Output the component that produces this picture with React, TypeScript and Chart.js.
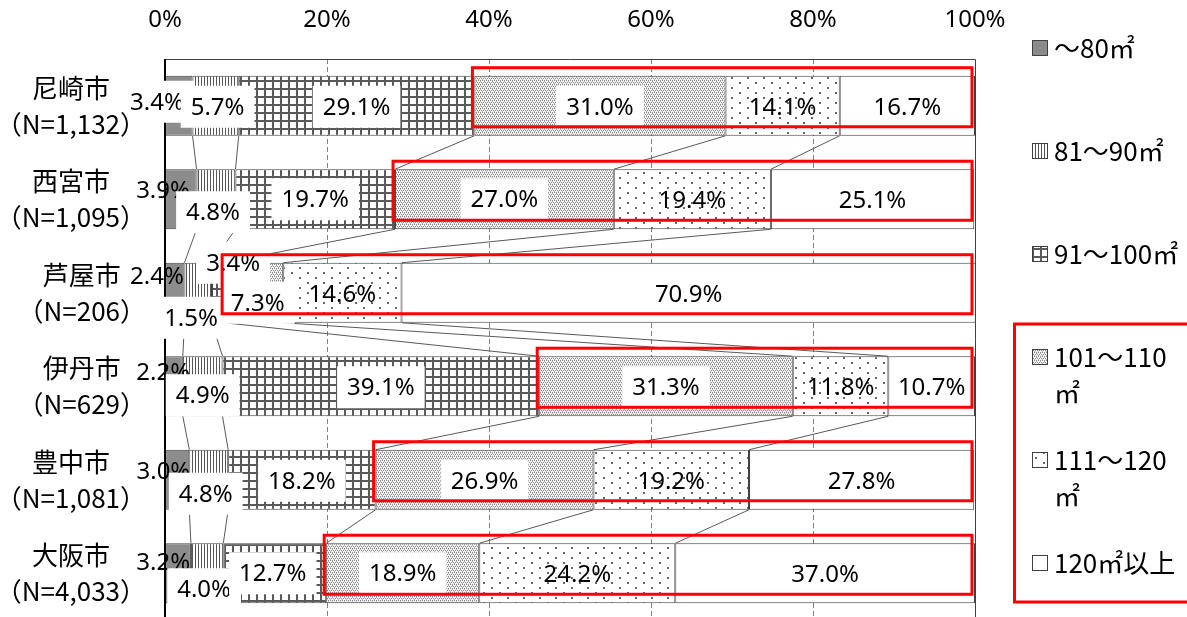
import React, { useEffect, useRef } from 'react';
import { Chart, registerables } from 'chart.js';

Chart.register(...registerables);

// ---------- data ----------
const cities = ['尼崎市', '西宮市', '芦屋市', '伊丹市', '豊中市', '大阪市'];
const sampleSizes = ['（N=1,132）', '（N=1,095）', '（N=206）', '（N=629）', '（N=1,081）', '（N=4,033）'];
const seriesNames = ['～80㎡', '81～90㎡', '91～100㎡', '101～110㎡', '111～120㎡', '120㎡以上'];
const upTo80 = [3.4, 3.9, 2.4, 2.2, 3.0, 3.2];
const from81to90 = [5.7, 4.8, 3.4, 4.9, 4.8, 4.0];
const from91to100 = [29.1, 19.7, 1.5, 39.1, 18.2, 12.7];
const from101to110 = [31.0, 27.0, 7.3, 31.3, 26.9, 18.9];
const from111to120 = [14.1, 19.4, 14.6, 11.8, 19.2, 24.2];
const over120 = [16.7, 25.1, 70.9, 10.7, 27.8, 37.0];
const xTickValues = [0, 20, 40, 60, 80, 100];

const seriesValues = [upTo80, from81to90, from91to100, from101to110, from111to120, over120];

// ---------- styling ----------
const NUM_FONT = '"Noto Sans", "Liberation Sans", sans-serif';
const JP_FONT = '"Noto Sans CJK JP", "Noto Sans", sans-serif';
const EDGE = '#404040';

// manual label displacement for the small segments (dx, dy) per series / category
const labelShift: Record<number, [number, number][]> = {
  0: [[-22, -4], [-18, -9], [-18, -17], [-11, -14], [-14, -9], [-15, -11]],
  1: [[2, 1], [-3, 13], [35, -30], [0, 9], [-3, 14], [-3, 16]],
  2: [[0, 1], [0, 0], [-27, 25], [0, 1], [0, 1], [-2, 0]],
  3: [[0, 1], [0, 0], [4, 10], [0, 1], [0, 1], [0, 0]],
};
// whether a label has a white background box, per series / category
const labelBoxed: boolean[][] = [
  [true, false, false, false, false, false],
  [true, true, true, true, true, true],
  [true, true, true, true, true, true],
  [true, true, true, true, true, true],
  [false, false, false, false, false, false],
  [false, false, false, false, false, false],
];

function makePattern(kind: string): string | CanvasPattern {
  if (kind === 'solid') return '#8c8c8c';
  if (kind === 'white') return '#ffffff';
  const c = document.createElement('canvas');
  const g = c.getContext('2d')!;
  if (kind === 'vlines') {
    c.width = 3; c.height = 3;
    g.fillStyle = '#fff'; g.fillRect(0, 0, 3, 3);
    g.fillStyle = '#555'; g.fillRect(0, 0, 1, 3);
  } else if (kind === 'grid') {
    c.width = 8; c.height = 8;
    g.fillStyle = '#fff'; g.fillRect(0, 0, 8, 8);
    g.fillStyle = '#5a5a5a'; g.fillRect(0, 0, 8, 2); g.fillRect(0, 0, 2, 8);
  } else if (kind === 'stipple') {
    c.width = 4; c.height = 4;
    g.fillStyle = '#f2f2f2'; g.fillRect(0, 0, 4, 4);
    g.fillStyle = '#8a8a8a';
    g.fillRect(0, 0, 1, 1); g.fillRect(2, 0, 1, 1); g.fillRect(1, 2, 1, 1); g.fillRect(3, 2, 1, 1);
    g.fillStyle = '#b5b5b5';
    g.fillRect(0, 1, 1, 1); g.fillRect(2, 3, 1, 1);
  } else if (kind === 'dots') {
    c.width = 16; c.height = 10;
    g.fillStyle = '#fff'; g.fillRect(0, 0, 16, 10);
    g.fillStyle = '#666'; g.fillRect(3, 2, 2, 2); g.fillRect(11, 7, 2, 2);
  }
  return g.createPattern(c, 'repeat')!;
}

const patternKinds = ['solid', 'vlines', 'grid', 'stipple', 'dots', 'white'];

function wrapText(ctx: CanvasRenderingContext2D, text: string, maxW: number): string[] {
  const lines: string[] = [];
  let cur = '';
  for (const ch of Array.from(text)) {
    if (cur && ctx.measureText(cur + ch).width > maxW) {
      lines.push(cur);
      cur = ch;
    } else cur += ch;
  }
  if (cur) lines.push(cur);
  return lines;
}

const overlayPlugin = {
  id: 'overlay',
  afterDatasetsDraw(chart: any) {
    const ctx: CanvasRenderingContext2D = chart.ctx;
    const xs = chart.scales.x;
    const ys = chart.scales.y;
    const area = chart.chartArea;
    const metas = seriesValues.map((_, k) => chart.getDatasetMeta(k));

    // series lines between neighbouring bars
    ctx.save();
    ctx.strokeStyle = '#595959';
    ctx.lineWidth = 1;
    for (let k = 0; k < 5; k++) {
      const els = metas[k].data;
      for (let i = 0; i < cities.length - 1; i++) {
        const a = els[i].getProps(['x', 'y', 'height'], true);
        const b = els[i + 1].getProps(['x', 'y', 'height'], true);
        ctx.beginPath();
        ctx.moveTo(a.x, a.y + a.height / 2);
        ctx.lineTo(b.x, b.y - b.height / 2);
        ctx.stroke();
      }
    }
    ctx.restore();

    // frame + axis line
    ctx.save();
    ctx.strokeStyle = EDGE;
    ctx.lineWidth = 1;
    ctx.beginPath();
    ctx.moveTo(area.left, area.top + 0.5);
    ctx.lineTo(area.right + 0.5, area.top + 0.5);
    ctx.lineTo(area.right + 0.5, area.bottom);
    ctx.stroke();
    ctx.strokeStyle = '#000';
    ctx.lineWidth = 2;
    ctx.beginPath();
    ctx.moveTo(area.left, area.top);
    ctx.lineTo(area.left, area.bottom);
    ctx.stroke();
    ctx.restore();

    // data labels
    ctx.save();
    ctx.font = `24px ${NUM_FONT}`;
    ctx.textAlign = 'center';
    ctx.textBaseline = 'middle';
    for (let k = 0; k < seriesValues.length; k++) {
      const els = metas[k].data;
      for (let i = 0; i < cities.length; i++) {
        const p = els[i].getProps(['x', 'y', 'base'], true);
        const shift = labelShift[k] ? labelShift[k][i] : [0, 1];
        const cx = (p.x + p.base) / 2 + shift[0];
        const cy = p.y + shift[1];
        const txt = seriesValues[k][i].toFixed(1) + '%';
        const w = ctx.measureText(txt).width;
        if (labelBoxed[k][i]) {
          ctx.fillStyle = '#fff';
          ctx.fillRect(cx - w / 2 - 10, cy - 21, w + 20, 42);
        }
        ctx.fillStyle = '#000';
        ctx.fillText(txt, cx, cy + 1);
      }
    }
    ctx.restore();

    // red highlight boxes (101㎡ and over)
    ctx.save();
    ctx.strokeStyle = '#ff0000';
    ctx.lineWidth = 3;
    for (let i = 0; i < cities.length; i++) {
      const p = metas[3].data[i].getProps(['base', 'y', 'height'], true);
      const left = p.base - 2;
      const right = xs.getPixelForValue(100) - 3;
      const top = p.y - p.height / 2 - 8;
      const bottom = p.y + p.height / 2 - 9;
      ctx.strokeRect(left, top, right - left, bottom - top);
    }
    ctx.restore();

    // category labels
    ctx.save();
    ctx.font = `26px ${JP_FONT}`;
    ctx.fillStyle = '#000';
    ctx.textAlign = 'center';
    ctx.textBaseline = 'middle';
    for (let i = 0; i < cities.length; i++) {
      const yc = ys.getPixelForValue(i);
      const w = Math.max(ctx.measureText(cities[i]).width, ctx.measureText(sampleSizes[i]).width);
      const cx = 146 - w / 2;
      ctx.fillText(cities[i], cx, yc - 18);
      ctx.fillText(sampleSizes[i], cx, yc + 18);
    }
    ctx.restore();

    // legend
    ctx.save();
    ctx.font = `26px ${JP_FONT}`;
    ctx.textAlign = 'left';
    ctx.textBaseline = 'middle';
    for (let k = 0; k < seriesNames.length; k++) {
      const y0 = 48 + k * 103;
      ctx.fillStyle = chart.data.datasets[k].backgroundColor;
      ctx.fillRect(1032, y0 - 8, 16, 16);
      ctx.strokeStyle = EDGE;
      ctx.lineWidth = 1;
      ctx.strokeRect(1032.5, y0 - 7.5, 15, 15);
      ctx.fillStyle = '#000';
      const lines = wrapText(ctx, seriesNames[k], 130);
      lines.forEach((ln, j) => ctx.fillText(ln, 1054, y0 + j * 36));
    }
    ctx.strokeStyle = '#ff0000';
    ctx.lineWidth = 3;
    ctx.strokeRect(1014.5, 324, 200, 278);
    ctx.restore();
  },
};

export default function App() {
  const ref = useRef<HTMLCanvasElement | null>(null);
  useEffect(() => {
    if (!ref.current) return;
    const chart = new Chart(ref.current, {
      type: 'bar',
      data: {
        labels: cities,
        datasets: seriesValues.map((vals, k) => ({
          label: seriesNames[k],
          data: vals,
          backgroundColor: makePattern(patternKinds[k]) as any,
          borderColor: EDGE,
          borderWidth: 1,
          borderSkipped: false,
          categoryPercentage: 1,
          barPercentage: 0.642,
        })),
      },
      options: {
        indexAxis: 'y',
        responsive: false,
        animation: false,
        layout: { padding: { left: 0, top: 0, right: 212, bottom: 20 } },
        plugins: { legend: { display: false }, tooltip: { enabled: false } },
        scales: {
          x: {
            type: 'linear',
            position: 'top',
            stacked: true,
            min: 0,
            max: 100,
            afterBuildTicks: (s: any) => { s.ticks = xTickValues.map((v) => ({ value: v })); },
            afterFit: (s: any) => { s.height = 59; },
            ticks: {
              callback: (v: any) => v + '%',
              font: { family: NUM_FONT, size: 24 },
              color: '#000',
              padding: 24,
              maxRotation: 0,
            },
            grid: {
              drawTicks: false,
              lineWidth: 1,
              color: (c: any) => (c.tick && (c.tick.value === 0 || c.tick.value === 100) ? 'rgba(0,0,0,0)' : '#7f7f7f'),
            },
            border: { display: false, dash: [5, 3] },
          },
          y: {
            type: 'category',
            stacked: true,
            afterFit: (s: any) => { s.width = 165; },
            ticks: { display: false },
            grid: { display: false },
            border: { display: false },
          },
        },
      },
      plugins: [overlayPlugin],
    });
    return () => chart.destroy();
  }, []);
  return (
    <div style={{ position: 'fixed', left: 0, top: 0, width: 1187, height: 640, background: '#fff' }}>
      <canvas ref={ref} width={1187} height={640} style={{ display: 'block' }} />
    </div>
  );
}
